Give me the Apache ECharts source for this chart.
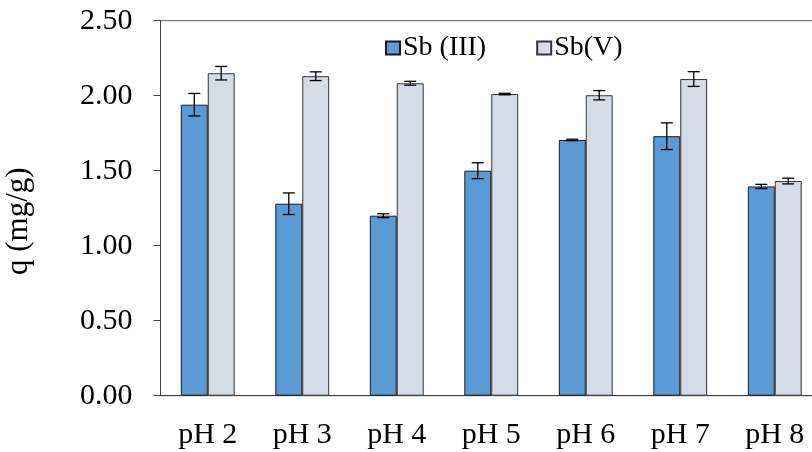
<!DOCTYPE html>
<html>
<head>
<meta charset="utf-8">
<script src="https://cdn.jsdelivr.net/npm/echarts@6/dist/echarts.min.js"></script>
<style>
  html, body { margin: 0; padding: 0; background: #fff; }
  #main { width: 812px; height: 452px; }
</style>
</head>
<body>
<div id="main"></div>
<script>
  // data
  var categories = ['pH 2', 'pH 3', 'pH 4', 'pH 5', 'pH 6', 'pH 7', 'pH 8'];
  var sb3 = [1.94, 1.28, 1.20, 1.50, 1.705, 1.73, 1.395];
  var sb3Err = [0.075, 0.072, 0.013, 0.053, 0.005, 0.089, 0.014];
  var sb5 = [2.15, 2.13, 2.083, 2.011, 2.003, 2.111, 1.431];
  var sb5Err = [0.045, 0.029, 0.013, 0.005, 0.031, 0.049, 0.019];
  var yTicks = [0, 0.5, 1, 1.5, 2, 2.5];

  var FONT = '"Liberation Serif", "Times New Roman", serif';
  var BAR_PCT = 0.285;

  var myChart = echarts.init(document.getElementById('main'));

  // error bars, shifted left (-1) or right (+1) onto their bar
  function errSeries(vals, errs, side) {
    var d = vals.map(function (v, i) { return [i, v, errs[i]]; });
    return {
      type: 'custom',
      silent: true,
      z: 10,
      data: d,
      renderItem: function (params, api) {
        var i = api.value(0), v = api.value(1), e = api.value(2);
        var band = api.size([1, 0])[0];
        var x = api.coord([i, v])[0] + side * band * BAR_PCT / 2;
        var hi = api.coord([i, v + e])[1];
        var lo = api.coord([i, v - e])[1];
        var cap = 6;
        var st = { stroke: '#000', lineWidth: 1.3 };
        return {
          type: 'group',
          children: [
            { type: 'line', shape: { x1: x, y1: hi, x2: x, y2: lo }, style: st },
            { type: 'line', shape: { x1: x - cap, y1: hi, x2: x + cap, y2: hi }, style: st },
            { type: 'line', shape: { x1: x - cap, y1: lo, x2: x + cap, y2: lo }, style: st }
          ]
        };
      }
    };
  }

  var option = {
    animation: false,
    textStyle: { fontFamily: FONT },
    grid: {
      left: 160.5, top: 20.7, bottom: 56.3, right: -10,
      outerBoundsMode: 'none',
      containLabel: false,
      show: true, borderColor: '#595959', borderWidth: 1
    },
    legend: {
      top: 29, left: 380,
      itemGap: 50,
      itemWidth: 14, itemHeight: 13,
      icon: 'rect',
      textStyle: { fontFamily: FONT, fontSize: 28, color: '#000', padding: [0, 0, 0, -2] },
      data: ['Sb (III)', 'Sb(V)']
    },
    xAxis: {
      type: 'category',
      data: categories,
      axisLine: { lineStyle: { color: '#404040', width: 1 } },
      axisTick: { length: 12, lineStyle: { color: '#404040' } },
      axisLabel: { fontFamily: FONT, fontSize: 30, color: '#000', margin: 24 }
    },
    yAxis: {
      type: 'value',
      min: yTicks[0],
      max: yTicks[yTicks.length - 1],
      interval: 0.5,
      name: 'q (mg/g)',
      nameLocation: 'middle',
      nameGap: 126,
      nameTextStyle: { fontFamily: FONT, fontSize: 31, color: '#000', padding: [0, 26, 0, 0] },
      splitLine: { show: false },
      axisLine: { show: true, lineStyle: { color: '#404040', width: 1 } },
      axisTick: { show: true, length: 7, lineStyle: { color: '#404040' } },
      axisLabel: {
        fontFamily: FONT, fontSize: 30, color: '#000', margin: 28,
        formatter: function (v) { return v.toFixed(2); }
      }
    },
    series: [
      {
        name: 'Sb (III)', type: 'bar', data: sb3,
        barWidth: (BAR_PCT * 100) + '%', barGap: '0%',
        itemStyle: { color: '#5B9BD5', borderColor: '#1a1a1a', borderWidth: 1 }
      },
      {
        name: 'Sb(V)', type: 'bar', data: sb5,
        barWidth: (BAR_PCT * 100) + '%', barGap: '0%',
        itemStyle: { color: '#D6DCE5', borderColor: '#333333', borderWidth: 1 }
      },
      errSeries(sb3, sb3Err, -1),
      errSeries(sb5, sb5Err, 1)
    ]
  };

  myChart.setOption(option);
</script>
</body>
</html>
